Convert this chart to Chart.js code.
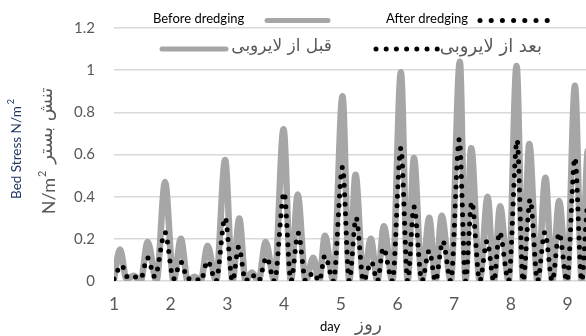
<!DOCTYPE html>
<html>
<head>
<meta charset="utf-8">
<script src="https://cdn.jsdelivr.net/npm/chart.js@4"></script>
<style>
  html, body { margin: 0; padding: 0; background: #fff; }
  #wrap { width: 586px; height: 336px; }
</style>
</head>
<body>
<div id="wrap"><canvas id="stressChart" width="586" height="336"></canvas></div>
<script>
// bed stress before dredging (day, N/m2)
var beforeDays = [1.00, 1.106, 1.22, 1.35, 1.47, 1.594, 1.75, 1.90, 2.05, 2.18, 2.30, 2.42, 2.53, 2.65, 2.80, 2.96,
    3.09, 3.21, 3.32, 3.43, 3.55, 3.675, 3.83, 3.99, 4.12, 4.24, 4.38, 4.515, 4.62, 4.72, 4.87, 5.03, 5.15, 5.26,
    5.40, 5.53, 5.645, 5.76, 5.91, 6.06, 6.18, 6.29, 6.43, 6.56, 6.67, 6.78, 6.94, 7.10, 7.20, 7.30, 7.45, 7.59,
    7.70, 7.81, 7.96, 8.10, 8.215, 8.325, 8.47, 8.61, 8.73, 8.85, 8.99, 9.13, 9.25, 9.36, 9.48];
var beforeStress = [0.01, 0.15, 0.01, 0.025, 0.0, 0.185, 0.0, 0.47, 0.0, 0.20, 0.0, 0.02, 0.0, 0.167, 0.0, 0.574,
    0.0, 0.296, 0.0, 0.04, 0.0, 0.185, 0.0, 0.72, 0.0, 0.41, 0.0, 0.11, 0.0, 0.215, 0.0, 0.876, 0.0, 0.504,
    0.0, 0.20, 0.0, 0.26, 0.0, 0.99, 0.0, 0.583, 0.0, 0.30, 0.0, 0.31, 0.0, 1.04, 0.0, 0.63, 0.0, 0.40,
    0.0, 0.354, 0.0, 1.02, 0.0, 0.65, 0.0, 0.49, 0.0, 0.38, 0.0, 0.926, 0.0, 0.62, 0.0];

// bed stress after dredging (day, N/m2)
var afterDays = [1.00, 1.13, 1.25, 1.35, 1.47, 1.59, 1.72, 1.90, 2.05, 2.18, 2.30, 2.42, 2.53, 2.65, 2.80, 2.96,
    3.09, 3.20, 3.32, 3.43, 3.55, 3.69, 3.83, 4.00, 4.12, 4.25, 4.38, 4.515, 4.62, 4.72, 4.87, 5.03, 5.15, 5.27,
    5.40, 5.54, 5.645, 5.75, 5.91, 6.06, 6.18, 6.29, 6.43, 6.56, 6.67, 6.80, 6.94, 7.09, 7.20, 7.31, 7.45, 7.58,
    7.70, 7.80, 7.96, 8.11, 8.215, 8.34, 8.47, 8.60, 8.73, 8.85, 8.99, 9.13, 9.25, 9.36, 9.48];
var afterStress = [0.01, 0.075, 0.015, 0.02, 0.01, 0.11, 0.02, 0.23, 0.01, 0.09, 0.01, 0.015, 0.0, 0.095, 0.0, 0.30,
    0.0, 0.163, 0.0, 0.03, 0.0, 0.112, 0.0, 0.42, 0.0, 0.227, 0.0, 0.04, 0.0, 0.12, 0.0, 0.54, 0.0, 0.30,
    0.0, 0.09, 0.0, 0.157, 0.0, 0.63, 0.0, 0.352, 0.0, 0.144, 0.0, 0.19, 0.0, 0.672, 0.0, 0.376, 0.0, 0.19,
    0.0, 0.232, 0.0, 0.667, 0.0, 0.387, 0.0, 0.232, 0.0, 0.227, 0.0, 0.584, 0.0, 0.37, 0.0];

var dayTicks = [1, 2, 3, 4, 5, 6, 7, 8, 9];
var stressTicks = [0, 0.2, 0.4, 0.6, 0.8, 1, 1.2];

var GREY_LINE = '#a6a6a6';
var TEXT_GREY = '#595959';
var FA_FONT = '"DejaVu Sans"';

function toPoints(xs, ys) {
    return xs.map(function (x, i) { return { x: x, y: ys[i] }; });
}

// set a Persian font whose rendered width is close to the given width
function fitFarsi(ctx, text, width) {
    ctx.font = '14px ' + FA_FONT;
    var size = 14 * width / ctx.measureText(text).width;
    ctx.font = size.toFixed(1) + 'px ' + FA_FONT;
    return size;
}

// legend rows and axis titles, drawn as plain canvas text
var textPlugin = {
    id: 'chartTexts',
    afterDraw: function (chart) {
        var ctx = chart.ctx;
        ctx.save();
        ctx.textBaseline = 'middle';

        function greyBar(x1, x2, y) {
            ctx.beginPath();
            ctx.strokeStyle = GREY_LINE;
            ctx.lineWidth = 5;
            ctx.lineCap = 'round';
            ctx.moveTo(x1, y);
            ctx.lineTo(x2, y);
            ctx.stroke();
        }
        function dotRow(x0, n, step, y) {
            ctx.fillStyle = '#000';
            for (var i = 0; i < n; i++) {
                ctx.beginPath();
                ctx.arc(x0 + i * step, y, 2.5, 0, Math.PI * 2);
                ctx.fill();
            }
        }

        // first legend row (English)
        ctx.font = '13px Lato';
        ctx.fillStyle = '#000';
        ctx.textAlign = 'left';
        ctx.fillText('Before dredging', 153, 19);
        greyBar(267, 328, 20.5);
        ctx.fillStyle = '#000';
        ctx.fillText('After dredging', 386, 19);
        dotRow(480, 7, 11.2, 20.5);

        // second legend row (Persian)
        greyBar(162, 226, 49);
        ctx.fillStyle = TEXT_GREY;
        ctx.textAlign = 'right';
        fitFarsi(ctx, 'قبل از لایروبی', 101);
        ctx.fillText('قبل از لایروبی', 332, 47);
        dotRow(376, 7, 10.2, 49);
        ctx.fillStyle = TEXT_GREY;
        fitFarsi(ctx, 'بعد از لایروبی', 102);
        ctx.fillText('بعد از لایروبی', 542, 47);

        // x axis title
        ctx.textAlign = 'left';
        ctx.font = '13px Lato';
        ctx.fillStyle = '#000';
        ctx.fillText('day', 320, 327);
        ctx.fillStyle = TEXT_GREY;
        fitFarsi(ctx, 'روز', 27);
        ctx.fillText('روز', 355, 325);

        // outer y title (English)
        ctx.save();
        ctx.translate(17, 149);
        ctx.rotate(-Math.PI / 2);
        ctx.fillStyle = '#1f3864';
        ctx.font = '13.5px Lato';
        var a = 'Bed Stress N/m';
        var wa = ctx.measureText(a).width;
        ctx.font = '9px Lato';
        var wb = ctx.measureText('2').width;
        var sx = -(wa + wb + 2) / 2;
        ctx.font = '13.5px Lato';
        ctx.fillText(a, sx, 0);
        ctx.font = '9px Lato';
        ctx.fillText('2', sx + wa + 2, -6);
        ctx.restore();

        // inner y title (unit + Persian)
        ctx.save();
        ctx.translate(49, 151);
        ctx.rotate(-Math.PI / 2);
        ctx.fillStyle = TEXT_GREY;
        ctx.font = '18px Lato';
        var u = 'N/m';
        var wu = ctx.measureText(u).width;
        ctx.font = '11px Lato';
        var w2 = ctx.measureText('2').width;
        var p = 'تنش بستر';
        fitFarsi(ctx, p, 76);
        var wp = ctx.measureText(p).width;
        var total = wu + w2 + 8 + wp;
        var x0 = -total / 2;
        ctx.font = '18px Lato';
        ctx.fillText(u, x0, 0);
        ctx.font = '11px Lato';
        ctx.fillText('2', x0 + wu + 1, -7);
        fitFarsi(ctx, p, 76);
        ctx.fillText(p, x0 + wu + w2 + 8, -2);
        ctx.restore();

        ctx.restore();
    }
};

var ctx = document.getElementById('stressChart').getContext('2d');
var stressChart = new Chart(ctx, {
    type: 'scatter',
    data: {
        datasets: [{
            label: 'After dredging',
            data: toPoints(afterDays, afterStress),
            showLine: true,
            order: 1,
            borderColor: '#000',
            borderWidth: 5,
            borderDash: [0, 9.5],
            borderCapStyle: 'round',
            borderJoinStyle: 'round',
            cubicInterpolationMode: 'monotone',
            pointRadius: 0,
            pointHoverRadius: 0
        }, {
            label: 'Before dredging',
            data: toPoints(beforeDays, beforeStress),
            showLine: true,
            order: 2,
            borderColor: GREY_LINE,
            borderWidth: 6.5,
            borderCapStyle: 'round',
            borderJoinStyle: 'round',
            cubicInterpolationMode: 'monotone',
            pointRadius: 0,
            pointHoverRadius: 0
        }]
    },
    options: {
        responsive: false,
        animation: false,
        events: [],
        layout: { padding: { top: 28, left: 0, right: 0, bottom: 0 } },
        plugins: {
            legend: { display: false },
            tooltip: { enabled: false }
        },
        scales: {
            x: {
                type: 'linear',
                min: 1,
                max: 9.325,
                afterFit: function (scale) { scale.height = 55; },
                afterBuildTicks: function (scale) {
                    scale.ticks = dayTicks.map(function (v) { return { value: v }; });
                },
                grid: { display: false, drawTicks: false },
                border: { display: false },
                ticks: {
                    padding: 13,
                    color: TEXT_GREY,
                    font: { family: 'Lato', size: 17.5 },
                    maxRotation: 0,
                    autoSkip: false
                }
            },
            y: {
                min: 0,
                max: 1.2,
                afterFit: function (scale) { scale.width = 114; },
                afterBuildTicks: function (scale) {
                    scale.ticks = stressTicks.map(function (v) { return { value: v }; });
                },
                grid: { color: '#d9d9d9', lineWidth: 1.5, drawTicks: false },
                border: { display: false },
                ticks: {
                    padding: 19,
                    color: TEXT_GREY,
                    font: { family: 'Lato', size: 15 },
                    callback: function (v) { return String(parseFloat(Number(v).toFixed(1))); }
                }
            }
        }
    },
    plugins: [textPlugin]
});
</script>
</body>
</html>
